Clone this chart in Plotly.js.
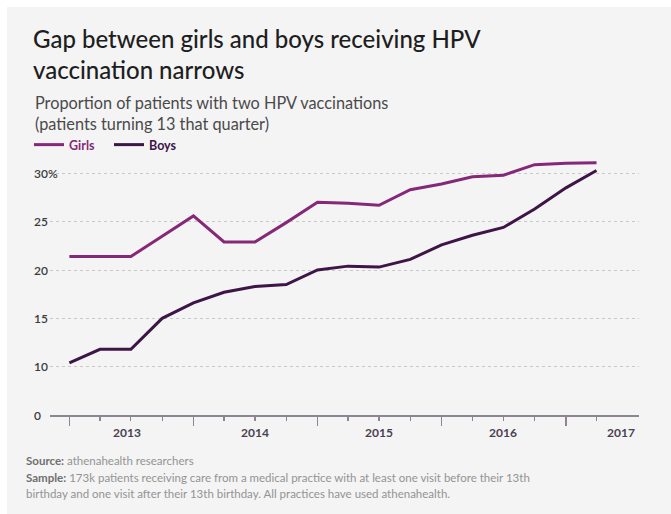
<!DOCTYPE html>
<html>
<head>
<meta charset="utf-8">
<script src="https://cdn.plot.ly/plotly-3.0.1.min.js"></script>
<style>
  html, body { margin: 0; padding: 0; background: #ffffff; }
  #chart { position: absolute; left: 7px; top: 7px; width: 664px; height: 507px; }
</style>
</head>
<body>
<div id="chart"></div>
<script>
// ---- Data ----
const quarters = [
  '2013-01-01','2013-04-01','2013-07-01','2013-10-01',
  '2014-01-01','2014-04-01','2014-07-01','2014-10-01',
  '2015-01-01','2015-04-01','2015-07-01','2015-10-01',
  '2016-01-01','2016-04-01','2016-07-01','2016-10-01',
  '2017-01-01','2017-04-01'
];
const girls = [21.4, 21.4, 21.4, 23.5, 25.6, 22.9, 22.9, 24.9, 27.0, 26.9, 26.7, 28.3, 28.9, 29.65, 29.8, 30.9, 31.05, 31.1];
const boys  = [10.4, 11.8, 11.8, 15.0, 16.6, 17.7, 18.3, 18.5, 20.0, 20.4, 20.3, 21.1, 22.6, 23.6, 24.4, 26.3, 28.5, 30.3];

// y axis has a break: the "0" label sits one step below 10
const yTickVals  = [5, 10, 15, 20, 25, 30];
const yTickText  = ['0', '10', '15', '20', '25', '30%'];
const yGridVals  = [10, 15, 20, 25, 30];

const yearStarts = ['2013-01-01','2014-01-01','2015-01-01','2016-01-01','2017-01-01'];
const yearLabelPos = ['2013-06-20','2014-07-01','2015-07-01','2016-07-01','2017-06-13'];
const yearLabels = ['2013','2014','2015','2016','2017'];

const seriesNames = ['Girls', 'Boys'];
const colors = ['#852878', '#3d1547'];

const sourceLines = [
  '<b style="color:#6f6f6f">Source:</b> athenahealth researchers',
  '<b style="color:#6f6f6f">Sample:</b> 173k patients receiving care from a medical practice with at least one visit before their 13th',
  'birthday and one visit after their 13th birthday. All practices have used athenahealth.'
];

// ---- Layout constants ----
const W = 664, H = 507;
const M = {l: 43, r: 32, t: 147, b: 99};
const plotW = W - M.l - M.r;
const plotH = H - M.t - M.b;
const px2x = px => (px - M.l) / plotW;
const py2y = py => (H - M.b - py) / plotH;
const FONT = 'Lato, "Open Sans", sans-serif';
const axisColor = '#8d8592';

const traces = [
  {x: quarters, y: girls, name: '<span style="color:' + colors[0] + '">' + seriesNames[0] + '</span>',
   type: 'scatter', mode: 'lines', line: {color: colors[0], width: 3}, hoverinfo: 'x+y'},
  {x: quarters, y: boys, name: '<span style="color:' + colors[1] + '">' + seriesNames[1] + '</span>',
   type: 'scatter', mode: 'lines', line: {color: colors[1], width: 3}, hoverinfo: 'x+y'}
];

const xRange = ['2012-11-05', '2017-08-04'];

const annotations = [];
yTickVals.forEach((v, i) => {
  annotations.push({
    x: px2x(25), xref: 'paper', xanchor: 'left',
    y: v, yref: 'y', yanchor: 'middle',
    text: yTickText[i], showarrow: false,
    font: {family: FONT, size: 12, color: '#3c3c3c', weight: 600}
  });
});
// year labels on the x axis
yearLabels.forEach((t, i) => {
  annotations.push({
    x: yearLabelPos[i], xref: 'x', xanchor: 'center',
    y: py2y(425), yref: 'paper', yanchor: 'middle',
    text: t, showarrow: false,
    font: {family: FONT, size: 12, color: '#4a4150', weight: 700}
  });
});
annotations.push({
  x: px2x(26), xref: 'paper', xanchor: 'left',
  y: py2y(105.5), yref: 'paper', yanchor: 'middle',
  text: 'Proportion of patients with two HPV vaccinations<br>(patients turning 13 that quarter)',
  align: 'left', showarrow: false,
  font: {family: FONT, size: 16.3, color: '#4a4a4a'}
});
const srcY = [453, 470, 486];
sourceLines.forEach((t, i) => {
  annotations.push({
    x: px2x(17), xref: 'paper', xanchor: 'left',
    y: py2y(srcY[i]), yref: 'paper', yanchor: 'middle',
    text: t, align: 'left', showarrow: false,
    font: {family: FONT, size: 11.5, color: '#939393'}
  });
});

const layout = {
  width: W, height: H,
  paper_bgcolor: '#f4f4f4', plot_bgcolor: 'rgba(0,0,0,0)',
  margin: M,
  font: {family: FONT},
  title: {
    text: 'Gap between girls and boys receiving HPV<br>vaccination narrows',
    x: 26 / W, xref: 'container', xanchor: 'left',
    y: 1 - 41 / H, yref: 'container', yanchor: 'top',
    font: {family: FONT, size: 24, color: '#1e1e1e', weight: 500}
  },
  showlegend: true,
  legend: {
    orientation: 'h', x: px2x(22), xanchor: 'left',
    y: 1 + (M.t - 138) / plotH, yanchor: 'middle',
    font: {family: FONT, size: 12.5, weight: 700},
    bgcolor: 'rgba(0,0,0,0)', itemwidth: 30, tracegroupgap: 0,
    entrywidth: 35, entrywidthmode: 'pixels',
    traceorder: 'normal'
  },
  xaxis: {
    type: 'date', range: xRange,
    showgrid: false, zeroline: false,
    showline: true, linecolor: axisColor, linewidth: 1.5,
    tickmode: 'array', tickvals: yearStarts, showticklabels: false,
    ticks: 'outside', ticklen: 9, tickwidth: 1.5, tickcolor: axisColor,
    minor: {tickmode: 'array', tickvals: quarters, ticks: 'outside', ticklen: 4, tickwidth: 1.2, tickcolor: axisColor, showgrid: false},
    fixedrange: true
  },
  yaxis: {
    range: [5, 32], showline: false, zeroline: false,
    tickmode: 'array', tickvals: yGridVals, showticklabels: false, ticks: '',
    showgrid: true, gridcolor: '#c9c9c9', gridwidth: 1, griddash: 'dot',
    fixedrange: true
  },
  annotations: annotations
};

Plotly.newPlot('chart', traces, layout, {displayModeBar: false, staticPlot: true});
</script>
</body>
</html>
